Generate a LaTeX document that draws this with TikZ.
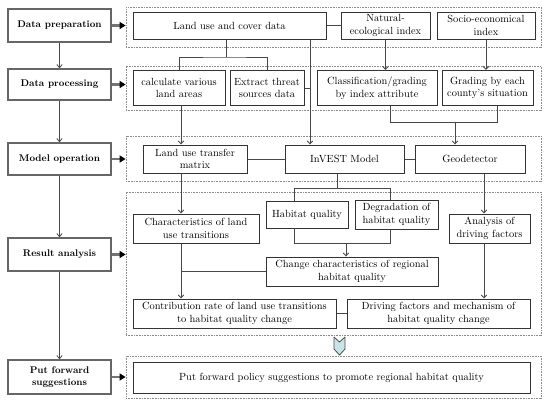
\documentclass[tikz,border=0pt]{standalone}
\usetikzlibrary{arrows.meta}
\definecolor{chevfill}{RGB}{200,228,232}
\begin{document}
\begin{tikzpicture}[x=1pt,y=-1pt,
  lbox/.style={draw=black!60, line width=1.7pt, fill=white, inner sep=0pt, minimum width=103, align=center, font=\fontsize{9.7}{11.5}\selectfont\bfseries},
  ibox/.style={draw=black!80, line width=1pt, fill=white, inner sep=0pt, align=center, font=\fontsize{10.4}{12.5}\selectfont},
  grp/.style={draw=black!45, line width=0.8pt, dash pattern=on 0.8pt off 0.8pt, inner sep=0pt},
  conn/.style={draw=black!72, line width=0.85pt},
  arr/.style={conn, -{Straight Barb[length=3pt,width=5.5pt]}},
  thick arr/.style={draw=black!55, line width=2.6pt, -{Triangle[color=black,length=6pt,width=7pt]}},
  chev/.style={draw=black!70, line width=0.8pt, fill=chevfill, line join=round}]
\useasboundingbox (0,0) rectangle (550,408);
\fill[white] (0,0) rectangle (550,408);
% groups
\node[grp, minimum width=415, minimum height=40] (g1) at (333.5,27) {};
\node[grp, minimum width=415, minimum height=44] (g2) at (333.5,88) {};
\node[grp, minimum width=415, minimum height=45] (g3) at (333.5,158.5) {};
\node[grp, minimum width=415, minimum height=143] (g4) at (333.5,263.5) {};
\node[grp, minimum width=415, minimum height=42] (g5) at (333.5,377) {};
% left column
\node[lbox, minimum height=33] (prep) at (59.5,25.5) {Data preparation};
\node[lbox, minimum height=31] (proc) at (59.5,84.5) {Data processing};
\node[lbox, minimum height=32] (model) at (59.5,159) {Model operation};
\node[lbox, minimum height=33] (result) at (59.5,254.5) {Result analysis};
\node[lbox, minimum height=34] (sugg) at (59.5,377) {Put forward\\suggestions};
\foreach \a/\b in {prep/proc,proc/model,model/result,result/sugg}
  \draw[arr] (\a.south) -- (\b.north);
\foreach \a/\g in {prep/g1,proc/g2,model/g3,result/g4,sugg/g5}
  \draw[thick arr] (\a.east) -- (\a.east -| \g.west);
% row 1
\node[ibox, minimum width=193, minimum height=27] (land) at (229.5,25.5) {Land use and cover data};
\node[ibox, minimum width=89, minimum height=27] (nat) at (385.5,25.5) {Natural-\\ecological index};
\node[ibox, minimum width=98, minimum height=27] (soc) at (486,25.5) {Socio-economical\\index};
% row 2
\node[ibox, minimum width=92, minimum height=35] (calc) at (179,88) {calculate various\\land areas};
\node[ibox, minimum width=74, minimum height=35] (ext) at (267,88) {Extract threat\\sources data};
\node[ibox, minimum width=120, minimum height=35] (cls) at (377,88) {Classification/grading\\by index attribute};
\node[ibox, minimum width=91, minimum height=35] (grd) at (487.5,88) {Grading by each\\county's situation};
% row 3
\node[ibox, minimum width=104, minimum height=28] (ltm) at (195,159) {Land use transfer\\matrix};
\node[ibox, minimum width=119, minimum height=28] (inv) at (344.5,159) {InVEST Model};
\node[ibox, minimum width=110, minimum height=28] (geo) at (470,159) {Geodetector};
% row 4
\node[ibox, minimum width=126, minimum height=29] (char) at (196,228.5) {Characteristics of land\\use transitions};
\node[ibox, minimum width=82, minimum height=27] (hq) at (307,214.5) {Habitat quality};
\node[ibox, minimum width=83, minimum height=29] (deg) at (396.5,214.5) {Degradation of\\habitat quality};
\node[ibox, minimum width=172, minimum height=29] (chg) at (352,271.5) {Change characteristics of regional\\habitat quality};
\node[ibox, minimum width=81, minimum height=29] (ana) at (489.5,228.5) {Analysis of\\driving factors};
\node[ibox, minimum width=203, minimum height=29] (con) at (234.5,313.5) {Contribution rate of land use transitions\\to habitat quality change};
\node[ibox, minimum width=183, minimum height=29] (drv) at (438.5,313.5) {Driving factors and mechanism of\\habitat quality change};
% row 5
\node[ibox, minimum width=397, minimum height=31] (pol) at (331.5,377.5) {Put forward policy suggestions to promote regional habitat quality};
% helper coordinates
\coordinate (v) at (310,0);
\coordinate (f1) at (226,57);
\coordinate (f2) at (390,122);
\coordinate (f3) at (497,122);
\coordinate (f4) at (455,122);
\coordinate (f5) at (337,188);
\coordinate (f6) at (294,188);
\coordinate (f7) at (390,188);
\coordinate (f8) at (294,243);
\coordinate (f9) at (390,243);
\coordinate (f10) at (346,243);
\coordinate (c1) at (181,0);
\coordinate (c2) at (484,0);
% connectors
\draw[conn] (land.east) -- (nat.west);
\draw[arr] (land.south -| v) -- (inv.north -| v);
\draw[conn] (ext.east) -- (ext.east -| v);
\draw[conn] (land.south -| f1) -- (f1);
\draw[conn] (calc.north) |- (f1) -| (ext.north);
\draw[arr] (nat.south) -- (nat.south |- cls.north);
\draw[arr] (soc.south) -- (soc.south |- grd.north);
\draw[conn] (cls.south -| f2) -- (f2) -- (f3) -- (grd.south -| f3);
\draw[arr] (f4) -- (geo.north -| f4);
\draw[arr] (calc.south -| c1) -- (ltm.north -| c1);
\draw[conn] (ltm.east) -- (inv.west);
\draw[conn] (inv.east) -- (geo.west);
\draw[conn] (inv.south -| f5) -- (f5);
\draw[conn] (hq.north -| f6) -- (f6) -- (f7) -- (deg.north -| f7);
\draw[conn] (hq.south -| f8) -- (f8) -- (f9) -- (deg.south -| f9);
\draw[arr] (f10) -- (chg.north -| f10);
\draw[arr] (ltm.south -| c1) -- (char.north -| c1);
\draw[arr] (char.south -| c1) -- (con.north -| c1);
\draw[conn] (chg.west) -- (chg.west -| c1);
\draw[arr] (geo.south -| c2) -- (ana.north -| c2);
\draw[arr] (ana.south -| c2) -- (drv.north -| c2);
\draw[conn] (con.east) -- (drv.west);
% chevron
\draw[chev] (334,337) -- (339.5,342) -- (345,337) -- (345,349) -- (339.5,355) -- (334,349) -- cycle;
\end{tikzpicture}
\end{document}
